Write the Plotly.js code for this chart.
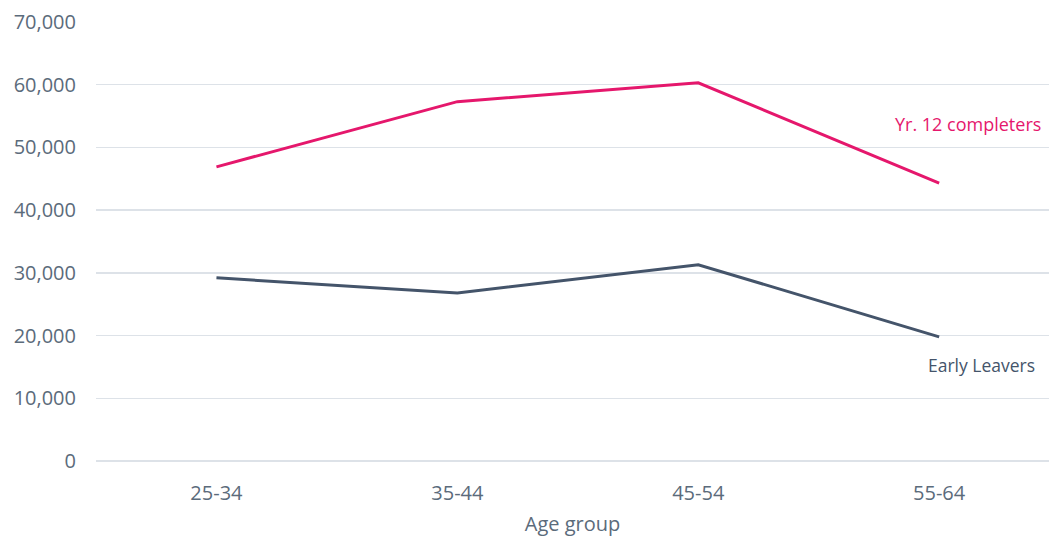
<!DOCTYPE html>
<html>
<head>
<meta charset="utf-8">
<script src="https://cdn.plot.ly/plotly-3.0.1.min.js"></script>
<style>html,body{margin:0;padding:0;background:#fff;}#chart{width:1049px;height:537px;}</style>
</head>
<body>
<div id="chart"></div>
<script>
const categories = ["25-34", "35-44", "45-54", "55-64"];
const yr12Completers = [46900, 57300, 60300, 44300];
const earlyLeavers = [29200, 26800, 31300, 19800];
const yTickVals = [0, 10000, 20000, 30000, 40000, 50000, 60000, 70000];
const yTickText = ["0", "10,000", "20,000", "30,000", "40,000", "50,000", "60,000", "70,000"];
const seriesNames = ["Yr. 12 completers", "Early Leavers"];

const pink = "#E5176C";
const slate = "#44546A";
const tickColor = "#5B6B7B";

const traces = [
  {x: categories, y: yr12Completers, name: seriesNames[0], type: "scatter", mode: "lines",
   line: {color: pink, width: 3}},
  {x: categories, y: earlyLeavers, name: seriesNames[1], type: "scatter", mode: "lines",
   line: {color: slate, width: 3}}
];

const layout = {
  width: 1049, height: 537,
  margin: {l: 96, r: 0, t: 22, b: 76},
  paper_bgcolor: "#fff", plot_bgcolor: "#fff",
  showlegend: false,
  font: {family: "Open Sans, Noto Sans, sans-serif", color: tickColor, size: 20},
  xaxis: {
    type: "category",
    range: [-0.5, 3.456],
    showgrid: false,
    showline: false,
    zeroline: false,
    ticks: "",
    ticklabelstandoff: 18,
    tickfont: {size: 20, color: tickColor},
    title: {text: "Age group", font: {size: 20, color: tickColor}, standoff: 16}
  },
  yaxis: {
    range: [0, 70000],
    tickvals: yTickVals,
    ticktext: yTickText,
    showgrid: true,
    gridcolor: "#DDE2E8",
    gridwidth: 1.5,
    zeroline: true,
    zerolinecolor: "#DDE2E8",
    zerolinewidth: 1.5,
    showline: false,
    ticks: "",
    ticklabelstandoff: 19,
    tickfont: {size: 20, color: tickColor}
  },
  annotations: [
    {x: 1043, xref: "paper", xanchor: "right", y: yr12Completers[3], yref: "y",
     text: seriesNames[0], showarrow: false, font: {size: 18, color: pink},
     yshift: 59},
    {x: 1037, xref: "paper", xanchor: "right", y: earlyLeavers[3], yref: "y",
     text: seriesNames[1], showarrow: false, font: {size: 17.5, color: slate},
     yshift: -28}
  ]
};
const plotW = 1049 - layout.margin.l - layout.margin.r;
layout.annotations.forEach(a => { a.x = (a.x - layout.margin.l) / plotW; });

Plotly.newPlot("chart", traces, layout, {displayModeBar: false, staticPlot: true});
</script>
</body>
</html>
